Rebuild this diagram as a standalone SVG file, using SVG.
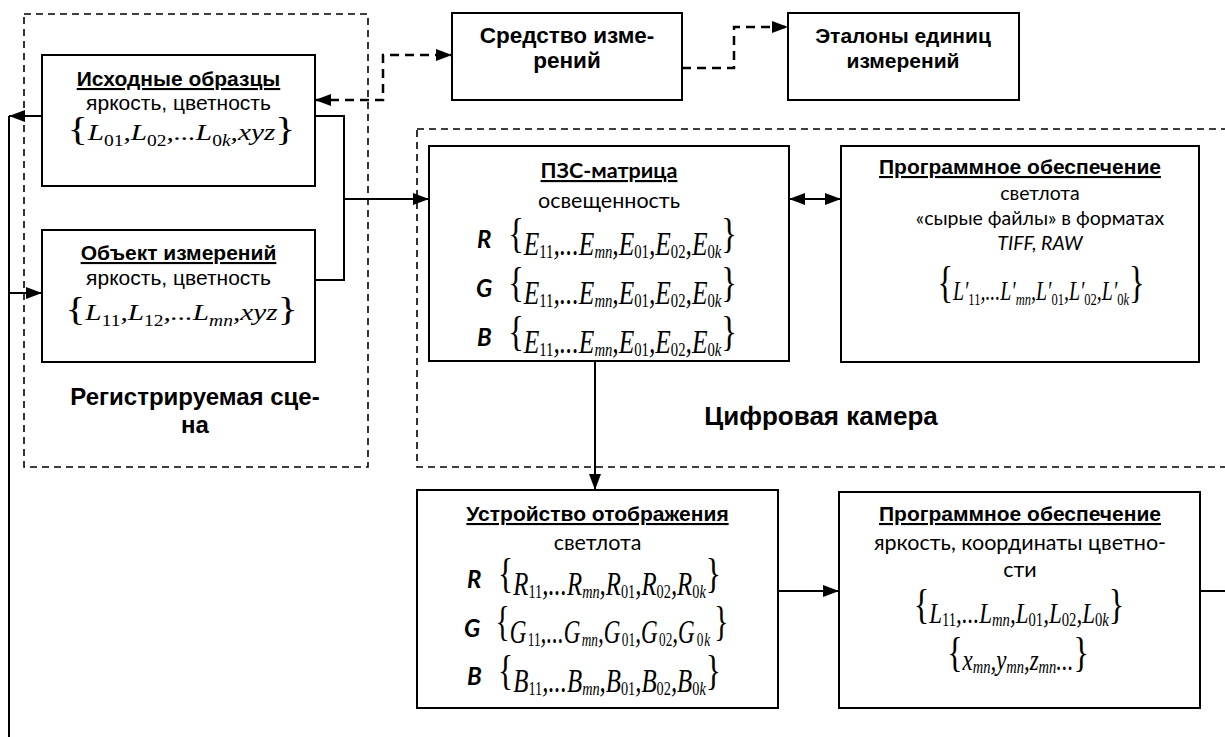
<svg xmlns="http://www.w3.org/2000/svg" width="1225" height="737" viewBox="0 0 1225 737">
<defs>
<marker id="ah" viewBox="0 0 16 12" refX="16" refY="6" markerWidth="16" markerHeight="12" markerUnits="userSpaceOnUse" orient="auto-start-reverse">
<path d="M0,0 L16,6 L0,12 z" fill="#000"/>
</marker>
<style>
.box{fill:#fff;stroke:#000;stroke-width:2}
.grp{fill:none;stroke:#000;stroke-width:1.6;stroke-dasharray:7 5}
.ln{fill:none;stroke:#000;stroke-width:2}
.dl{fill:none;stroke:#000;stroke-width:2.5;stroke-dasharray:9 6}
.b{font-family:"Liberation Sans",Arial,sans-serif;font-weight:bold;font-size:21px;text-anchor:middle}
.u{text-decoration:underline}
.r{font-family:"Liberation Sans",Arial,sans-serif;font-size:21px;text-anchor:middle}
.c{font-family:Lato,"Open Sans",sans-serif;font-size:21.5px;text-anchor:middle}
.cs{font-family:Lato,"Open Sans",sans-serif;font-size:19.5px;text-anchor:middle}
.cb{font-family:Lato,"Open Sans",sans-serif;font-weight:bold;font-size:21.5px;text-anchor:middle}
.ci{font-family:Lato,"Open Sans",sans-serif;font-style:italic;font-size:19.5px;text-anchor:middle}
.rgb{font-family:Lato,"Open Sans",sans-serif;font-weight:bold;font-style:italic;font-size:24px}
.fm{font-family:"Liberation Serif","Times New Roman",serif;font-style:italic;text-anchor:middle}
.m24{font-size:24px}.m27{font-size:27px}.m30{font-size:30px}.m33{font-size:33px}
.b34{font-style:normal;font-size:34px}.b42{font-style:normal;font-size:42px}.b44{font-style:normal;font-size:44px}
.d16{font-style:normal;font-size:16px}.i16{font-style:italic;font-size:16px}
.d17{font-style:normal;font-size:17px}.i17{font-style:italic;font-size:17px}
.d19{font-style:normal;font-size:19px}.i19{font-style:italic;font-size:19px}
</style>
</defs>

<g id="group-scene">
<rect class="grp" x="24" y="14" width="344" height="453"/>
<text class="b" x="195" y="405" style="font-size:24px">Регистрируемая сце-</text>
<text class="b" x="195" y="433" style="font-size:24px">на</text>
</g>

<g id="group-camera">
<rect class="grp" x="417" y="129" width="830" height="338"/>
<text class="b" x="821" y="425" style="font-size:26px">Цифровая камера</text>
</g>

<g id="node-samples">
<rect class="box" x="42" y="55" width="273" height="131"/>
<text class="b u" x="178.5" y="86">Исходные образцы</text>
<text class="r" x="178.5" y="110">яркость, цветность</text>
<text class="fm m24" transform="translate(181.5,140) scale(1.22,1)"><tspan class="b34">{</tspan>L<tspan class="d16" dy="6">01</tspan><tspan dy="-6">,L</tspan><tspan class="d16" dy="6">02</tspan><tspan dy="-6">,...L</tspan><tspan class="d16" dy="6">0</tspan><tspan class="i16">k</tspan><tspan dy="-6">,xyz</tspan><tspan class="b34">}</tspan></text>
</g>

<g id="node-object">
<rect class="box" x="42" y="230" width="273" height="132"/>
<text class="b u" x="178.5" y="260">Объект измерений</text>
<text class="r" x="178.5" y="285">яркость, цветность</text>
<text class="fm m24" transform="translate(181.5,320) scale(1.22,1)"><tspan class="b34">{</tspan>L<tspan class="d16" dy="6">11</tspan><tspan dy="-6">,L</tspan><tspan class="d16" dy="6">12</tspan><tspan dy="-6">,...L</tspan><tspan class="i16" dy="6">mn</tspan><tspan dy="-6">,xyz</tspan><tspan class="b34">}</tspan></text>
</g>

<g id="node-instrument">
<rect class="box" x="452" y="13" width="230" height="87"/>
<text class="b" x="567" y="43" style="font-size:22.5px">Средство изме-</text>
<text class="b" x="567" y="68" style="font-size:22.5px">рений</text>
</g>

<g id="node-standards">
<rect class="box" x="788" y="13" width="231" height="87"/>
<text class="b" x="903" y="43">Эталоны единиц</text>
<text class="b" x="903" y="68">измерений</text>
</g>

<g id="node-ccd">
<rect class="box" x="429" y="146" width="360" height="215"/>
<text class="cb u" x="609" y="178">ПЗС-матрица</text>
<text class="c" x="609" y="208">освещенность</text>
<text class="rgb" x="477" y="248">R</text>
<text class="fm m33" transform="translate(622.5,255) scale(0.772,1)"><tspan class="b42" dy="-8">{</tspan><tspan dy="8">E</tspan><tspan class="d19" dy="3">11</tspan><tspan dy="-3">,...E</tspan><tspan class="i19" dy="3">mn</tspan><tspan dy="-3">,E</tspan><tspan class="d19" dy="3">01</tspan><tspan dy="-3">,E</tspan><tspan class="d19" dy="3">02</tspan><tspan dy="-3">,E</tspan><tspan class="d19" dy="3">0</tspan><tspan class="i19">k</tspan><tspan class="b42" dy="-11">}</tspan></text>
<text class="rgb" x="476" y="297">G</text>
<text class="fm m33" transform="translate(622.5,304) scale(0.772,1)"><tspan class="b42" dy="-8">{</tspan><tspan dy="8">E</tspan><tspan class="d19" dy="3">11</tspan><tspan dy="-3">,...E</tspan><tspan class="i19" dy="3">mn</tspan><tspan dy="-3">,E</tspan><tspan class="d19" dy="3">01</tspan><tspan dy="-3">,E</tspan><tspan class="d19" dy="3">02</tspan><tspan dy="-3">,E</tspan><tspan class="d19" dy="3">0</tspan><tspan class="i19">k</tspan><tspan class="b42" dy="-11">}</tspan></text>
<text class="rgb" x="477" y="346">B</text>
<text class="fm m33" transform="translate(622.5,353) scale(0.772,1)"><tspan class="b42" dy="-8">{</tspan><tspan dy="8">E</tspan><tspan class="d19" dy="3">11</tspan><tspan dy="-3">,...E</tspan><tspan class="i19" dy="3">mn</tspan><tspan dy="-3">,E</tspan><tspan class="d19" dy="3">01</tspan><tspan dy="-3">,E</tspan><tspan class="d19" dy="3">02</tspan><tspan dy="-3">,E</tspan><tspan class="d19" dy="3">0</tspan><tspan class="i19">k</tspan><tspan class="b42" dy="-11">}</tspan></text>
</g>

<g id="node-software-raw">
<rect class="box" x="841" y="146" width="358" height="216"/>
<text class="b u" x="1020" y="174">Программное обеспечение</text>
<text class="cs" x="1040" y="200">светлота</text>
<text class="cs" x="1040" y="225">«сырые файлы» в форматах</text>
<text class="ci" x="1040" y="250">TIFF, RAW</text>
<text class="fm m27" transform="translate(1041,300) scale(0.737,1)"><tspan class="b44" dy="-3">{</tspan><tspan dy="3">L′</tspan><tspan class="d17" dy="5">11</tspan><tspan dy="-5">,...L′</tspan><tspan class="i17" dy="5">mn</tspan><tspan dy="-5">,L′</tspan><tspan class="d17" dy="5">01</tspan><tspan dy="-5">,L′</tspan><tspan class="d17" dy="5">02</tspan><tspan dy="-5">,L′</tspan><tspan class="d17" dy="5">0</tspan><tspan class="i17">k</tspan><tspan class="b44" dy="-8">}</tspan></text>
</g>

<g id="node-display">
<rect class="box" x="417" y="490" width="361" height="218"/>
<text class="b u" x="597.5" y="521">Устройство отображения</text>
<text class="c" x="597.5" y="550">светлота</text>
<text class="rgb" x="467" y="588">R</text>
<text class="fm m33" transform="translate(609.5,595) scale(0.752,1)"><tspan class="b42" dy="-8">{</tspan><tspan dy="8">R</tspan><tspan class="d19" dy="3">11</tspan><tspan dy="-3">,...R</tspan><tspan class="i19" dy="3">mn</tspan><tspan dy="-3">,R</tspan><tspan class="d19" dy="3">01</tspan><tspan dy="-3">,R</tspan><tspan class="d19" dy="3">02</tspan><tspan dy="-3">,R</tspan><tspan class="d19" dy="3">0</tspan><tspan class="i19">k</tspan><tspan class="b42" dy="-11">}</tspan></text>
<text class="rgb" x="464" y="637">G</text>
<text class="fm m33" transform="translate(612,643) scale(0.7,1)"><tspan class="b42" dy="-8">{</tspan><tspan dy="8">G</tspan><tspan class="d19" dx="2" dy="3">11</tspan><tspan dy="-3">,...G</tspan><tspan class="i19" dx="2" dy="3">mn</tspan><tspan dy="-3">,G</tspan><tspan class="d19" dx="2" dy="3">01</tspan><tspan dy="-3">,G</tspan><tspan class="d19" dx="2" dy="3">02</tspan><tspan dy="-3">,G</tspan><tspan class="d19" dx="3" dy="3">0</tspan><tspan class="i19" dx="1">k</tspan><tspan class="b42" dx="6" dy="-11">}</tspan></text>
<text class="rgb" x="467" y="685">B</text>
<text class="fm m33" transform="translate(609.5,692) scale(0.752,1)"><tspan class="b42" dy="-8">{</tspan><tspan dy="8">B</tspan><tspan class="d19" dy="3">11</tspan><tspan dy="-3">,...B</tspan><tspan class="i19" dy="3">mn</tspan><tspan dy="-3">,B</tspan><tspan class="d19" dy="3">01</tspan><tspan dy="-3">,B</tspan><tspan class="d19" dy="3">02</tspan><tspan dy="-3">,B</tspan><tspan class="d19" dy="3">0</tspan><tspan class="i19">k</tspan><tspan class="b42" dy="-11">}</tspan></text>
</g>

<g id="node-software-color">
<rect class="box" x="839" y="492" width="361" height="216"/>
<text class="b u" x="1020" y="521">Программное обеспечение</text>
<text class="c" x="1020" y="550">яркость, координаты цветно-</text>
<text class="c" x="1020" y="577">сти</text>
<text class="fm m30" transform="translate(1019,623) scale(0.77,1)"><tspan class="b42" dy="-5">{</tspan><tspan dy="5">L</tspan><tspan class="d19" dy="3">11</tspan><tspan dy="-3">,...L</tspan><tspan class="i19" dy="3">mn</tspan><tspan dy="-3">,L</tspan><tspan class="d19" dy="3">01</tspan><tspan dy="-3">,L</tspan><tspan class="d19" dy="3">02</tspan><tspan dy="-3">,L</tspan><tspan class="d19" dy="3">0</tspan><tspan class="i19">k</tspan><tspan class="b42" dy="-8">}</tspan></text>
<text class="fm m30" transform="translate(1018,670) scale(0.762,1)"><tspan class="b42" dy="-4">{</tspan><tspan dy="4">x</tspan><tspan class="i19" dy="3">mn</tspan><tspan dy="-3">,y</tspan><tspan class="i19" dy="3">mn</tspan><tspan dy="-3">,z</tspan><tspan class="i19" dy="3">mn</tspan><tspan dy="-3">...</tspan><tspan class="b42" dy="-4">}</tspan></text>
</g>

<g id="connectors">
<path class="ln" d="M42,116 H9" marker-end="url(#ah)"/>
<path class="ln" d="M9,116 V737"/>
<path class="ln" d="M9,293 H42" marker-end="url(#ah)"/>
<path class="ln" d="M315,116 H344 V280 H315"/>
<path class="ln" d="M344,199 H429" marker-end="url(#ah)"/>
<path class="dl" d="M315,100 H383 V55 H452" marker-start="url(#ah)" marker-end="url(#ah)"/>
<path class="dl" d="M682,68 H734 V27 H788" marker-end="url(#ah)"/>
<path class="ln" d="M789,199 H841" marker-start="url(#ah)" marker-end="url(#ah)"/>
<path class="ln" d="M595,361 V490" marker-end="url(#ah)"/>
<path class="ln" d="M778,591 H839" marker-end="url(#ah)"/>
<path class="ln" d="M1200,591 H1225"/>
</g>
</svg>
